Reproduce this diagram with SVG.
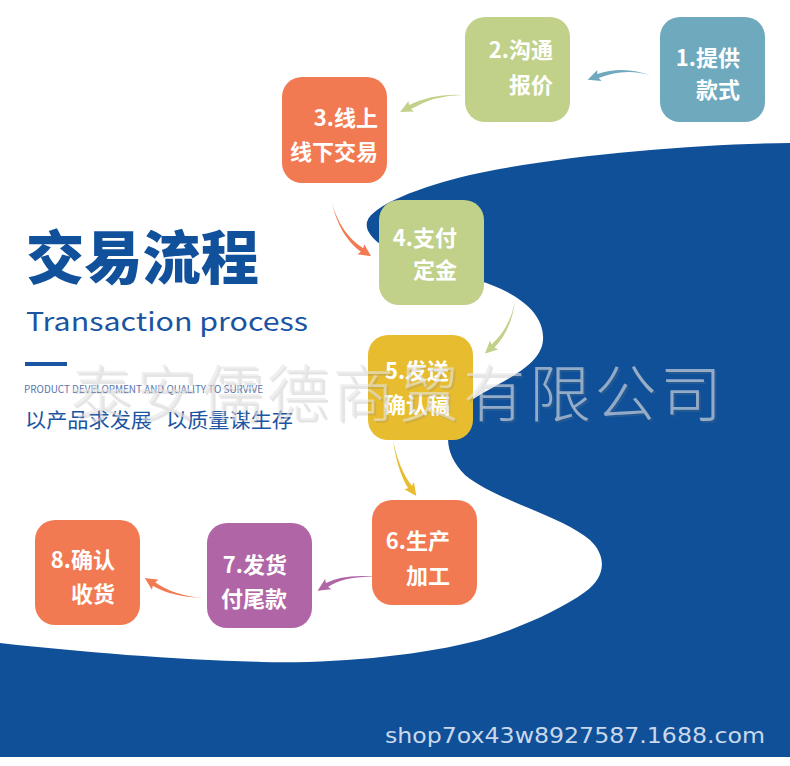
<svg xmlns="http://www.w3.org/2000/svg" width="790" height="766" viewBox="0 0 790 766">
<style>
.box{stroke:none}
.lbl{font-family:"Noto Sans CJK SC","Noto Sans",sans-serif;font-size:22px;font-weight:700;fill:#ffffff}
.title{font-family:"Noto Sans CJK SC",sans-serif;font-size:58px;font-weight:900;fill:#11519b}
.sub{font-family:"Noto Sans CJK SC","Noto Sans",sans-serif;fill:#1a54a2}
.wm{font-family:"Noto Sans CJK SC",sans-serif;font-size:62px;font-weight:300}
</style>
<rect x="0" y="0" width="790" height="766" fill="#ffffff"/>
<path id="bg-blue" fill="#0f5099" d="M790,143 C700,144 560,155 470,175 C420,187 372,205 367,222 C363,240 400,262 470,278 C515,290 545,312 543,340 C541,370 490,385 465,405 C445,422 440,450 465,475 C495,500 560,515 590,540 C608,557 605,578 585,592 C560,610 520,628 480,640 C420,656 330,664 262,662 C180,660 80,652 0,643 L0,757 L790,757 Z"/>

<g id="heading">
<text class="title" x="26" y="279" textLength="233" lengthAdjust="spacingAndGlyphs">交易流程</text>
<text class="sub" x="26" y="331" font-size="25" font-weight="400" textLength="282" lengthAdjust="spacingAndGlyphs">Transaction process</text>
<rect x="25" y="362" width="42" height="4" fill="#1a54a2"/>
<text class="sub" x="24" y="393" font-size="10" style="fill:#5a74ad" textLength="239" lengthAdjust="spacingAndGlyphs">PRODUCT DEVELOPMENT AND QUALITY TO SURVIVE</text>
<text class="sub" x="25" y="428" font-size="20" font-weight="400" textLength="127" lengthAdjust="spacingAndGlyphs">以产品求发展</text>
<text class="sub" x="166" y="428" font-size="20" font-weight="400" textLength="127" lengthAdjust="spacingAndGlyphs">以质量谋生存</text>
</g>

<g id="connectors">
<path fill="#6fa9be" d="M652,76 Q625.4,67 598.8,78.1 L601.5,81.1 L587.7,79.8 L597.3,69.9 L597.2,73.9 Q624.6,65 652,76 Z"/>
<path fill="#c1d189" d="M462,95 Q435.5,95 411,109 L414.1,111.6 L400.2,112.1 L408.5,101 L409,105 Q434.5,93 462,95 Z"/>
<path fill="#f27a52" d="M332,203 Q339.4,235.9 360.8,251.8 L357.4,254.2 L371.1,256.2 L364.2,244.2 L363.2,248.2 Q340.6,234.1 332,203 Z"/>
<path fill="#c1d189" d="M515,302 Q509.2,329.2 491.5,344.4 L490,340.6 L485,353.6 L498.2,349.4 L494.5,347.6 Q510.8,330.8 515,302 Z"/>
<path fill="#e7bd2f" d="M393,440 Q397.1,470.6 408.2,488.3 L404.2,489.3 L416.3,496 L414,482.3 L411.8,485.7 Q398.9,469.4 393,440 Z"/>
<path fill="#b066a6" d="M380,577 Q344.4,573.1 325.9,583.1 L325.1,579.1 L317.6,590.7 L331.4,589.3 L328.1,586.9 Q345.6,574.9 380,577 Z"/>
<path fill="#f27a52" d="M203,598 Q172.6,595.1 155.2,582.2 L158.6,579.8 L144.8,577.9 L151.9,589.8 L152.8,585.8 Q171.4,596.9 203,598 Z"/>
</g>

<g id="node1">
<rect class="box" x="660" y="17" width="105" height="105" rx="20" fill="#6fa9be"/>
<text class="lbl" x="740" y="66" text-anchor="end">1.提供</text>
<text class="lbl" x="740" y="98" text-anchor="end">款式</text>
</g>
<g id="node2">
<rect class="box" x="465" y="17" width="105" height="105" rx="20" fill="#c1d189"/>
<text class="lbl" x="553" y="58" text-anchor="end">2.沟通</text>
<text class="lbl" x="553" y="93" text-anchor="end">报价</text>
</g>
<g id="node3">
<rect class="box" x="282" y="77" width="105" height="106" rx="20" fill="#f27a52"/>
<text class="lbl" x="378" y="126" text-anchor="end">3.线上</text>
<text class="lbl" x="378" y="160" text-anchor="end">线下交易</text>
</g>
<g id="node4">
<rect class="box" x="379" y="200" width="105" height="105" rx="20" fill="#c1d189"/>
<text class="lbl" x="457" y="246" text-anchor="end">4.支付</text>
<text class="lbl" x="457" y="278" text-anchor="end">定金</text>
</g>
<g id="node5">
<rect class="box" x="368" y="335" width="105" height="105" rx="20" fill="#e7bd2f"/>
<text class="lbl" x="417" y="379" text-anchor="middle" font-weight="500">5.发送</text>
<text class="lbl" x="417" y="413" text-anchor="middle" font-weight="500">确认稿</text>
</g>
<g id="node6">
<rect class="box" x="372" y="500" width="105" height="105" rx="20" fill="#f27a52"/>
<text class="lbl" x="450" y="549" text-anchor="end">6.生产</text>
<text class="lbl" x="450" y="584" text-anchor="end">加工</text>
</g>
<g id="node7">
<rect class="box" x="207" y="523" width="105" height="105" rx="20" fill="#b066a6"/>
<text class="lbl" x="287" y="573" text-anchor="end">7.发货</text>
<text class="lbl" x="287" y="607" text-anchor="end">付尾款</text>
</g>
<g id="node8">
<rect class="box" x="35" y="520" width="105" height="105" rx="20" fill="#f27a52"/>
<text class="lbl" x="115" y="568" text-anchor="end">8.确认</text>
<text class="lbl" x="115" y="602" text-anchor="end">收货</text>
</g>

<g id="watermark">
<text class="wm" x="72" y="419" fill="#808080" opacity="0.2" textLength="652" lengthAdjust="spacing">泰安儒德商贸有限公司</text>
<text class="wm" x="70" y="417" fill="#e6e6e6" opacity="0.6" textLength="652" lengthAdjust="spacing">泰安儒德商贸有限公司</text>
</g>

<text x="385" y="743" font-family="DejaVu Sans, sans-serif" font-size="22" fill="#c9d8ea" textLength="380" lengthAdjust="spacingAndGlyphs">shop7ox43w8927587.1688.com</text>
</svg>
